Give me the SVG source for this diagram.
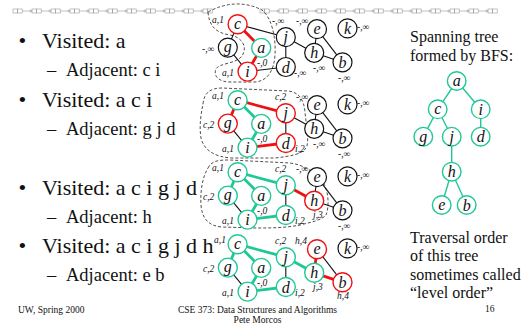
<svg xmlns="http://www.w3.org/2000/svg" xmlns:xlink="http://www.w3.org/1999/xlink" width="526" height="328" viewBox="0 0 526 328">
<style>
text{font-family:"Liberation Serif","Times New Roman",serif;fill:#111}
.big{font-size:22px}
.mid{font-size:18.5px}
.side{font-size:16px}
.foot{font-size:9.5px}
.nl{font-size:16px;font-style:italic;text-anchor:middle}
.sm{font-size:9.5px;font-style:italic}
.n{fill:#fff;stroke:#111;stroke-width:1.2}
.nt{fill:#fff;stroke:#20c896;stroke-width:1.4}
.nr{fill:#fff;stroke:#ee1111;stroke-width:1.4}
.e{stroke:#111;stroke-width:1.1;fill:none}
.et{stroke:#20c896;stroke-width:2.8;fill:none}
.er{stroke:#ee1111;stroke-width:2.8;fill:none}
.tt{stroke:#20c896;stroke-width:1.4;fill:none}
.dash{fill:none;stroke:#222;stroke-width:0.8;stroke-dasharray:3 2}
.strip{fill:none;stroke:#999;stroke-width:0.6}
.strip path{fill:#999;stroke:none}
</style>
<defs>
<g id="pair"><rect x="0" y="0" width="4.6" height="4"/><rect x="4.6" y="0" width="4.6" height="4"/></g>
<g id="unit"><use href="#pair"/><line x1="9.2" y1="2" x2="17.2" y2="2"/><path d="M17.2,0.9 L19.2,2 L17.2,3.1Z"/></g>
</defs>
<g id="strip" class="strip" transform="translate(0,9)">
<use href="#unit" x="13"/><use href="#unit" x="32"/><use href="#unit" x="51"/><use href="#unit" x="70"/><use href="#unit" x="89"/><use href="#unit" x="108"/><use href="#unit" x="127"/><use href="#unit" x="146"/><use href="#unit" x="165"/><use href="#unit" x="184"/><use href="#pair" x="203"/>
<use href="#unit" x="260"/><use href="#unit" x="279"/><use href="#unit" x="298"/><use href="#unit" x="317"/><use href="#unit" x="336"/><use href="#unit" x="355"/><use href="#unit" x="374"/><use href="#unit" x="393"/><use href="#unit" x="412"/><use href="#unit" x="431"/><use href="#unit" x="450"/><use href="#unit" x="469"/><use href="#pair" x="488"/>
</g>
<g id="bullets">
<text class="big" x="18.5" y="48">•</text><text class="big" x="42" y="48">Visited: a</text>
<text class="mid" x="47" y="76">–</text><text class="mid" x="66" y="76">Adjacent: c i</text>
<text class="big" x="18.5" y="107">•</text><text class="big" x="42" y="107">Visited: a c i</text>
<text class="mid" x="47" y="135">–</text><text class="mid" x="66" y="135">Adjacent: g j d</text>
<text class="big" x="18.5" y="195">•</text><text class="big" x="42" y="195">Visited: a c i g j d</text>
<text class="mid" x="47" y="223">–</text><text class="mid" x="66" y="223">Adjacent: h</text>
<text class="big" x="18.5" y="253">•</text><text class="big" x="42" y="253">Visited: a c i g j d h</text>
<text class="mid" x="47" y="281">–</text><text class="mid" x="66" y="281">Adjacent: e b</text>
</g>
<g id="regions">
<path class="dash" d="M208,12 Q236,-3 262,10 C272,18 276,38 275,55 C274,70 268,81 255,82 L230,82 C219,82 213,76 216,69 C219,63 236,64 242,56 C248,47 242,37 230,35 C216,33 209,26 208,12 Z"/>
<path class="dash" d="M203,104 C204,93 210,88 222,88 L288,91 C299,92 304,100 305,112 C306,124 309,136 307,146 C304,154 292,156 275,158 L232,158 C214,157 204,150 201,138 C199,126 201,114 203,104 Z"/>
<path class="dash" d="M208,168 C212,160 220,160 230,160 L290,163 C305,165 318,174 324,184 C329,193 329,208 326,215 C322,220 312,222 300,225 C285,228 270,228 255,228 L222,227 C208,226 202,218 201,205 C200,190 203,176 208,168 Z"/>
</g>
<g id="connectors">
<g transform="translate(0,0)">
<line class="er" x1="237.6" y1="24.2" x2="261.2" y2="47.9"/><line class="er" x1="261.2" y1="47.9" x2="247.5" y2="71.6"/>
<line class="e" x1="237.6" y1="24.2" x2="227.8" y2="47.6"/><line class="e" x1="227.8" y1="47.6" x2="247.5" y2="71.6"/>
<line class="e" x1="237.6" y1="24.2" x2="285.8" y2="37.2"/><line class="e" x1="247.5" y1="71.6" x2="285.8" y2="67"/>
<line class="e" x1="285.8" y1="37.2" x2="285.8" y2="67"/><line class="e" x1="285.8" y1="37.2" x2="314.2" y2="52.8"/>
<line class="e" x1="314.2" y1="52.8" x2="317" y2="29.2"/><line class="e" x1="314.2" y1="52.8" x2="342.5" y2="62.3"/><line class="e" x1="317" y1="29.2" x2="342.5" y2="62.3"/>
</g>
<g transform="translate(0,76)">
<line class="et" x1="237.6" y1="24.2" x2="261.2" y2="47.9"/><line class="et" x1="261.2" y1="47.9" x2="247.5" y2="71.6"/>
<line class="er" x1="237.6" y1="24.2" x2="227.8" y2="47.6"/><line class="e" x1="227.8" y1="47.6" x2="247.5" y2="71.6"/>
<line class="er" x1="237.6" y1="24.2" x2="285.8" y2="37.2"/><line class="er" x1="247.5" y1="71.6" x2="285.8" y2="67"/>
<line class="e" x1="285.8" y1="37.2" x2="285.8" y2="67"/><line class="e" x1="285.8" y1="37.2" x2="314.2" y2="52.8"/>
<line class="e" x1="314.2" y1="52.8" x2="317" y2="29.2"/><line class="e" x1="314.2" y1="52.8" x2="342.5" y2="62.3"/><line class="e" x1="317" y1="29.2" x2="342.5" y2="62.3"/>
</g>
<g transform="translate(0,148)">
<line class="et" x1="237.6" y1="24.2" x2="261.2" y2="47.9"/><line class="et" x1="261.2" y1="47.9" x2="247.5" y2="71.6"/>
<line class="et" x1="237.6" y1="24.2" x2="227.8" y2="47.6"/><line class="e" x1="227.8" y1="47.6" x2="247.5" y2="71.6"/>
<line class="et" x1="237.6" y1="24.2" x2="285.8" y2="37.2"/><line class="et" x1="247.5" y1="71.6" x2="285.8" y2="67"/>
<line class="e" x1="285.8" y1="37.2" x2="285.8" y2="67"/><line class="er" x1="285.8" y1="37.2" x2="314.2" y2="52.8"/>
<line class="e" x1="314.2" y1="52.8" x2="317" y2="29.2"/><line class="e" x1="314.2" y1="52.8" x2="342.5" y2="62.3"/><line class="e" x1="317" y1="29.2" x2="342.5" y2="62.3"/>
</g>
<g transform="translate(0,220)">
<line class="et" x1="237.6" y1="24.2" x2="261.2" y2="47.9"/><line class="et" x1="261.2" y1="47.9" x2="247.5" y2="71.6"/>
<line class="et" x1="237.6" y1="24.2" x2="227.8" y2="47.6"/><line class="e" x1="227.8" y1="47.6" x2="247.5" y2="71.6"/>
<line class="et" x1="237.6" y1="24.2" x2="285.8" y2="37.2"/><line class="et" x1="247.5" y1="71.6" x2="285.8" y2="67"/>
<line class="e" x1="285.8" y1="37.2" x2="285.8" y2="67"/><line class="et" x1="285.8" y1="37.2" x2="314.2" y2="52.8"/>
<line class="er" x1="314.2" y1="52.8" x2="317" y2="29.2"/><line class="er" x1="314.2" y1="52.8" x2="342.5" y2="62.3"/><line class="e" x1="317" y1="29.2" x2="342.5" y2="62.3"/>
</g>
<g id="tree-edges">
<line class="tt" x1="456.7" y1="81" x2="437.7" y2="109.3"/><line class="tt" x1="456.7" y1="81" x2="480.7" y2="109.3"/>
<line class="tt" x1="437.7" y1="109.3" x2="423.3" y2="136.7"/><line class="tt" x1="437.7" y1="109.3" x2="451.7" y2="136.7"/>
<line class="tt" x1="480.7" y1="109.3" x2="480.7" y2="136.7"/><line class="tt" x1="451.7" y1="136.7" x2="451.7" y2="171.7"/>
<line class="tt" x1="451.7" y1="171.7" x2="441.7" y2="205"/><line class="tt" x1="451.7" y1="171.7" x2="466.7" y2="205"/>
</g>
</g>
<g id="graph1">
<g id="g1-c"><circle class="nr" cx="237.6" cy="24.2" r="9.5"/><text class="nl" x="237.6" y="29">c</text><text class="sm" x="212" y="23">a,1</text></g>
<g id="g1-g"><circle class="n" cx="227.8" cy="47.6" r="9.5"/><text class="nl" x="227.8" y="52.4">g</text><text class="sm" x="202" y="52">-,∞</text></g>
<g id="g1-a"><circle class="nt" cx="261.2" cy="47.9" r="9.5"/><text class="nl" x="261.2" y="52.7">a</text><text class="sm" x="257" y="66">-,0</text></g>
<g id="g1-i"><circle class="nr" cx="247.5" cy="71.6" r="9.5"/><text class="nl" x="247.5" y="77">i</text><text class="sm" x="222" y="76">a,1</text></g>
<g id="g1-j"><circle class="n" cx="285.8" cy="37.2" r="9.5"/><text class="nl" x="285.8" y="42">j</text><text class="sm" x="272" y="24">-,∞</text></g>
<g id="g1-d"><circle class="n" cx="285.8" cy="67" r="9.5"/><text class="nl" x="285.8" y="72.5">d</text><text class="sm" x="294" y="76">-,∞</text></g>
<g id="g1-h"><circle class="n" cx="314.2" cy="52.8" r="9.5"/><text class="nl" x="314.2" y="58.3">h</text><text class="sm" x="313" y="71">-,∞</text></g>
<g id="g1-e"><circle class="n" cx="317" cy="29.2" r="9.5"/><text class="nl" x="317" y="34">e</text><text class="sm" x="296" y="24">-,∞</text></g>
<g id="g1-k"><circle class="n" cx="347.5" cy="28.4" r="9.5"/><text class="nl" x="347.5" y="33.9">k</text><text class="sm" x="357" y="30">-,∞</text></g>
<g id="g1-b"><circle class="n" cx="342.5" cy="62.3" r="9.5"/><text class="nl" x="342.5" y="67.8">b</text><text class="sm" x="338" y="81">-,∞</text></g>
</g>
<g id="graph2" transform="translate(0,76)">
<g id="g2-c"><circle class="nt" cx="237.6" cy="24.2" r="9.5"/><text class="nl" x="237.6" y="29">c</text><text class="sm" x="212" y="23">a,1</text></g>
<g id="g2-g"><circle class="nr" cx="227.8" cy="47.6" r="9.5"/><text class="nl" x="227.8" y="52.4">g</text><text class="sm" x="203" y="52">c,2</text></g>
<g id="g2-a"><circle class="nt" cx="261.2" cy="47.9" r="9.5"/><text class="nl" x="261.2" y="52.7">a</text><text class="sm" x="257" y="66">-,0</text></g>
<g id="g2-i"><circle class="nt" cx="247.5" cy="71.6" r="9.5"/><text class="nl" x="247.5" y="77">i</text><text class="sm" x="222" y="76">a,1</text></g>
<g id="g2-j"><circle class="nr" cx="285.8" cy="37.2" r="9.5"/><text class="nl" x="285.8" y="42">j</text><text class="sm" x="275" y="24">c,2</text></g>
<g id="g2-d"><circle class="nr" cx="285.8" cy="67" r="9.5"/><text class="nl" x="285.8" y="72.5">d</text><text class="sm" x="295" y="76">i,2</text></g>
<g id="g2-h"><circle class="n" cx="314.2" cy="52.8" r="9.5"/><text class="nl" x="314.2" y="58.3">h</text><text class="sm" x="313" y="71">-,∞</text></g>
<g id="g2-e"><circle class="n" cx="317" cy="29.2" r="9.5"/><text class="nl" x="317" y="34">e</text><text class="sm" x="296" y="24">-,∞</text></g>
<g id="g2-k"><circle class="n" cx="347.5" cy="28.4" r="9.5"/><text class="nl" x="347.5" y="33.9">k</text><text class="sm" x="357" y="30">-,∞</text></g>
<g id="g2-b"><circle class="n" cx="342.5" cy="62.3" r="9.5"/><text class="nl" x="342.5" y="67.8">b</text><text class="sm" x="338" y="81">-,∞</text></g>
</g>
<g id="graph3" transform="translate(0,148)">
<g id="g3-c"><circle class="nt" cx="237.6" cy="24.2" r="9.5"/><text class="nl" x="237.6" y="29">c</text><text class="sm" x="212" y="23">a,1</text></g>
<g id="g3-g"><circle class="nt" cx="227.8" cy="47.6" r="9.5"/><text class="nl" x="227.8" y="52.4">g</text><text class="sm" x="203" y="52">c,2</text></g>
<g id="g3-a"><circle class="nt" cx="261.2" cy="47.9" r="9.5"/><text class="nl" x="261.2" y="52.7">a</text><text class="sm" x="257" y="66">-,0</text></g>
<g id="g3-i"><circle class="nt" cx="247.5" cy="71.6" r="9.5"/><text class="nl" x="247.5" y="77">i</text><text class="sm" x="222" y="76">a,1</text></g>
<g id="g3-j"><circle class="nt" cx="285.8" cy="37.2" r="9.5"/><text class="nl" x="285.8" y="42">j</text><text class="sm" x="275" y="24">c,2</text></g>
<g id="g3-d"><circle class="nt" cx="285.8" cy="67" r="9.5"/><text class="nl" x="285.8" y="72.5">d</text><text class="sm" x="295" y="76">i,2</text></g>
<g id="g3-h"><circle class="nr" cx="314.2" cy="52.8" r="9.5"/><text class="nl" x="314.2" y="58.3">h</text><text class="sm" x="313" y="70">j,3</text></g>
<g id="g3-e"><circle class="n" cx="317" cy="29.2" r="9.5"/><text class="nl" x="317" y="34">e</text><text class="sm" x="296" y="24">-,∞</text></g>
<g id="g3-k"><circle class="n" cx="347.5" cy="28.4" r="9.5"/><text class="nl" x="347.5" y="33.9">k</text><text class="sm" x="357" y="30">-,∞</text></g>
<g id="g3-b"><circle class="n" cx="342.5" cy="62.3" r="9.5"/><text class="nl" x="342.5" y="67.8">b</text><text class="sm" x="338" y="81">-,∞</text></g>
</g>
<g id="graph4" transform="translate(0,220)">
<g id="g4-c"><circle class="nt" cx="237.6" cy="24.2" r="9.5"/><text class="nl" x="237.6" y="29">c</text><text class="sm" x="214" y="23">a,1</text></g>
<g id="g4-g"><circle class="nt" cx="227.8" cy="47.6" r="9.5"/><text class="nl" x="227.8" y="52.4">g</text><text class="sm" x="203" y="52">c,2</text></g>
<g id="g4-a"><circle class="nt" cx="261.2" cy="47.9" r="9.5"/><text class="nl" x="261.2" y="52.7">a</text><text class="sm" x="257" y="66">-,0</text></g>
<g id="g4-i"><circle class="nt" cx="247.5" cy="71.6" r="9.5"/><text class="nl" x="247.5" y="77">i</text><text class="sm" x="222" y="76">a,1</text></g>
<g id="g4-j"><circle class="nt" cx="285.8" cy="37.2" r="9.5"/><text class="nl" x="285.8" y="42">j</text><text class="sm" x="275" y="24">c,2</text></g>
<g id="g4-d"><circle class="nt" cx="285.8" cy="67" r="9.5"/><text class="nl" x="285.8" y="72.5">d</text><text class="sm" x="295" y="76">i,2</text></g>
<g id="g4-h"><circle class="nt" cx="314.2" cy="52.8" r="9.5"/><text class="nl" x="314.2" y="58.3">h</text><text class="sm" x="313" y="70">j,3</text></g>
<g id="g4-e"><circle class="nr" cx="317" cy="29.2" r="9.5"/><text class="nl" x="317" y="34">e</text><text class="sm" x="295" y="24">h,4</text></g>
<g id="g4-k"><circle class="n" cx="347.5" cy="28.4" r="9.5"/><text class="nl" x="347.5" y="33.9">k</text><text class="sm" x="357" y="30">-,∞</text></g>
<g id="g4-b"><circle class="nr" cx="342.5" cy="62.3" r="9.5"/><text class="nl" x="342.5" y="67.8">b</text><text class="sm" x="337" y="79">h,4</text></g>
</g>
<g id="tree">
<text class="side" x="410" y="41.7">Spanning tree</text>
<text class="side" x="410" y="60.7">formed by BFS:</text>
<g id="t-a"><circle class="nt" cx="456.7" cy="81" r="9.3"/><text class="nl" x="456.7" y="85.8">a</text></g>
<g id="t-c"><circle class="nt" cx="437.7" cy="109.3" r="9.3"/><text class="nl" x="437.7" y="114.1">c</text></g>
<g id="t-i"><circle class="nt" cx="480.7" cy="109.3" r="9.3"/><text class="nl" x="480.7" y="114.8">i</text></g>
<g id="t-g"><circle class="nt" cx="423.3" cy="136.7" r="9.3"/><text class="nl" x="423.3" y="141.5">g</text></g>
<g id="t-j"><circle class="nt" cx="451.7" cy="136.7" r="9.3"/><text class="nl" x="451.7" y="141.5">j</text></g>
<g id="t-d"><circle class="nt" cx="480.7" cy="136.7" r="9.3"/><text class="nl" x="480.7" y="142.2">d</text></g>
<g id="t-h"><circle class="nt" cx="451.7" cy="171.7" r="9.3"/><text class="nl" x="451.7" y="177.2">h</text></g>
<g id="t-e"><circle class="nt" cx="441.7" cy="205" r="9.3"/><text class="nl" x="441.7" y="209.8">e</text></g>
<g id="t-b"><circle class="nt" cx="466.7" cy="205" r="9.3"/><text class="nl" x="466.7" y="210.5">b</text></g>
<text class="side" x="410" y="242.7">Traversal order</text>
<text class="side" x="410" y="261">of this tree</text>
<text class="side" x="410" y="279.5">sometimes called</text>
<text class="side" x="410" y="298">“level order”</text>
</g>
<g id="footer">
<text class="foot" x="18" y="313">UW, Spring 2000</text>
<text class="foot" x="257.5" y="313" text-anchor="middle">CSE 373: Data Structures and Algorithms</text>
<text class="foot" x="257.5" y="323" text-anchor="middle">Pete Morcos</text>
<text class="foot" x="485" y="312">16</text>
</g>
</svg>
